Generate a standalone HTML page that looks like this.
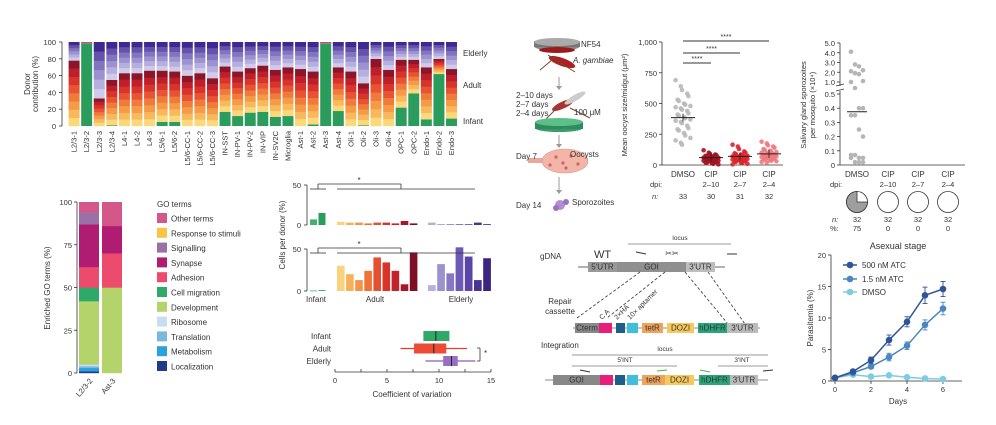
<!DOCTYPE html>
<html><head><meta charset="utf-8">
<style>
html,body{margin:0;padding:0;background:#fff;}
svg{display:block;font-family:"Liberation Sans",Arial,sans-serif;}
text{fill:#333;}
</style></head>
<body>
<svg id="fig" width="996" height="425" viewBox="0 0 996 425" xmlns="http://www.w3.org/2000/svg">
<g id="static">
  <!-- Panel D mosquito illustration -->
  <g>
    <ellipse cx="557" cy="46" rx="23" ry="5" fill="#888"/>
    <rect x="534" y="41" width="46" height="6" fill="#777"/>
    <ellipse cx="557" cy="42" rx="23" ry="4" fill="#aaa"/>
    <ellipse cx="557" cy="50" rx="18" ry="3" fill="#9b1b1b"/>
    <ellipse cx="562" cy="62" rx="14" ry="4" fill="#a22" transform="rotate(20 562 62)"/>
    <line x1="548" y1="55" x2="575" y2="72" stroke="#7a4a2a" stroke-width="1"/>
    <line x1="552" y1="60" x2="540" y2="70" stroke="#7a4a2a" stroke-width="1"/>
    <line x1="559" y1="77" x2="559" y2="88" stroke="#999"/>
    <polygon points="556,86 562,86 559,90" fill="#999"/>
    <ellipse cx="563" cy="105" rx="12" ry="3.5" fill="#a33" transform="rotate(-25 563 105)"/>
    <ellipse cx="575" cy="98" rx="12" ry="3" fill="#ccc" transform="rotate(-30 575 98)"/>
    <line x1="555" y1="110" x2="545" y2="120" stroke="#7a4a2a"/>
    <line x1="570" y1="108" x2="590" y2="118" stroke="#7a4a2a"/>
    <ellipse cx="559" cy="128" rx="24" ry="4" fill="#3b9a6a"/>
    <rect x="535" y="122" width="48" height="7" fill="#2e8b5e"/>
    <ellipse cx="559" cy="122" rx="24" ry="4" fill="#5cbf88"/>
    <line x1="559" y1="135" x2="559" y2="146" stroke="#999"/>
    <polygon points="556,144 562,144 559,148" fill="#999"/>
    <rect x="528" y="158" width="16" height="5" fill="#e9a89a"/>
    <ellipse cx="565" cy="161" rx="23" ry="12" fill="#f2b5a8" stroke="#c98" stroke-width="0.6"/>
    <circle cx="556" cy="157" r="1.6" fill="#c66"/><circle cx="563" cy="163" r="1.6" fill="#c66"/><circle cx="571" cy="156" r="1.6" fill="#c66"/><circle cx="578" cy="164" r="1.6" fill="#c66"/><circle cx="566" cy="168" r="1.6" fill="#c66"/><circle cx="550" cy="165" r="1.6" fill="#c66"/>
    <line x1="559" y1="177" x2="559" y2="192" stroke="#999"/>
    <polygon points="556,190 562,190 559,194" fill="#999"/>
    <circle cx="560" cy="205" r="5" fill="#b18fd0"/><circle cx="566" cy="202" r="3" fill="#9a72c0"/><circle cx="556" cy="208" r="3" fill="#9a72c0"/>
  </g>
  <g font-size="8">
    <text x="581" y="47">NF54</text>
    <text x="573" y="63" font-style="italic">A. gambiae</text>
    <text x="516" y="98">2–10 days</text>
    <text x="516" y="107">2–7 days</text>
    <text x="516" y="116">2–4 days</text>
    <text x="574" y="115">100 μM</text>
    <text x="516" y="159">Day 7</text>
    <text x="570" y="157">Oocysts</text>
    <text x="516" y="208">Day 14</text>
    <text x="572" y="205">Sporozoites</text>
  </g>
</g>
<g id="gA"></g>
<g id="gB"></g>
<g id="gC"></g>
<g id="gCV"></g>
<g id="gO"></g>
<g id="gS"></g>
<g id="gE"></g>
<g id="gP"></g>
</svg>
<script>
// ===== Panel A data =====
const cellTypes = ["L2/3-1","L2/3-2","L2/3-3","L2/3-4","L4-1","L4-2","L4-3","L5/6-1","L5/6-2","L5/6-CC-1","L5/6-CC-2","L5/6-CC-3","IN-SST","IN-PV-1","IN-PV-2","IN-VIP","IN-SV2C","Microglia","Ast-1","Ast-2","Ast-3","Ast-4","Oli-1","Oli-2","Oli-3","Oli-4","OPC-1","OPC-2","Endo-1","Endo-2","Endo-3"];
const infantPct = [0,98,0,1,0,0,0,5,5,0,0,0,17,12,16,17,11,12,0,2,98,18,0,1,0,0,22,39,8,62,9];
const adultPct = [78,1,33,54,63,63,66,61,60,60,63,57,54,53,53,55,56,58,68,63,1,52,65,50,80,67,57,40,62,18,59];
const labelColors = ["#9b1c3a","#9b1c3a","#c4344f","#c4344f","#b0206e","#b0206e","#b0206e","#e0612b","#e0612b","#f0a050","#f0b060","#f5c680","#1e6b3a","#2e9a4e","#3fae5a","#6cc080","#a6d4a0","#2a2a7a","#2a55a0","#3c78c0","#7fb0e0","#a8c8ec","#4a2a8a","#7a60b0","#a090cc","#c0b4dc","#1a6aa0","#2a80c0","#d19a20","#e8b020","#f0c030"];
// ===== Panel B data =====
const goTerms = ["Localization","Metabolism","Translation","Ribosome","Development","Cell migration","Adhesion","Synapse","Signalling","Response to stimuli","Other terms"];
const goColors = ["#213a8a","#2aa3dc","#7ab8e0","#c6def0","#b5d36b","#2fa968","#ec4b6e","#b01c72","#9b6fa8","#f7c443","#d4578a"];
const goL23 = [1,2,1,1,37,8,12,25,7,0,6];
const goAst3 = [0,0,0,0,50,0,20,16,0,0,14];
// ===== Panel C data =====
const infantTop = [7,15];
const adultTop = [4,3,3,2,3,3,2,5,2];
const elderlyTop = [3,1,1,1,1,3,1];
const infantBot = [0.6,1];
const adultBot = [30,20,13,24,40,34,24,8,46];
const elderlyBot = [7,32,21,52,41,13,39];
// CV boxplots: [whiskerLo, q1, median, q3, whiskerHi]
const cvGroups = ["Infant","Adult","Elderly"];
const cvStats = [[8.5,8.5,9.7,11,11],[6.3,7.6,9.5,10.7,12.7],[8.7,10.4,11.2,11.8,13.5]];
// ===== Oocyst data =====
const oocystGroups = ["DMSO","CIP","CIP","CIP"];
const oocystDpi = ["","2–10","2–7","2–4"];
const oocystN = ["33","30","31","32"];
const oocystMeans = [385,60,70,90];
const oocystDMSO = [690,640,610,580,560,530,520,500,490,480,470,460,450,440,420,410,400,390,380,370,360,350,340,320,300,290,280,260,240,220,200,180,165];
const oocyst210 = [120,100,90,85,80,75,70,70,65,60,60,55,55,50,50,45,45,40,40,35,35,30,30,25,25,20,20,15,10,5];
const oocyst27 = [165,150,130,110,100,95,90,85,80,75,70,70,65,65,60,60,55,55,50,50,45,40,40,35,30,30,25,20,15,10,5];
const oocyst24 = [190,175,160,150,140,130,120,115,110,105,100,95,90,90,85,80,80,75,70,70,65,60,60,55,50,50,45,40,35,30,25,20];
// ===== Sporozoite data =====
const sporoDMSO = [4.1,2.8,2.6,2.2,2.1,1.9,1.8,1.1,1.0,0.8,0.4,0.4,0.35,0.35,0.25,0.2,0.07,0.07,0.05,0.05,0.05,0.02,0.02,0.02];
const sporoMean = 0.375;
const sporoPct = [75,0,0,0];
const sporoN = ["32","32","32","32"];
// ===== Parasitemia data =====
const days = [0,1,2,3,4,5,6];
const atc500 = [0.5,1.5,3.3,6.5,9.4,13.6,14.6];
const atc500Err = [0.2,0.3,0.5,0.8,0.8,1.3,1.2];
const atc15 = [0.5,1.3,2.3,3.8,5.6,8.9,11.5];
const atc15Err = [0.2,0.2,0.3,0.6,0.6,0.8,1.0];
const dmso = [0.5,1.0,0.7,0.9,0.6,0.4,0.3];
const dmsoErr = [0.1,0.1,0.1,0.2,0.1,0.1,0.1];

const NS="http://www.w3.org/2000/svg";
function mk(parent, tag, attrs, name){
  const el=document.createElementNS(NS,tag);
  for(const k in attrs) el.setAttribute(k,attrs[k]);
  
  
  parent.appendChild(el); return el;
}
function tx(parent,x,y,s,size,name,extra){
  const a=Object.assign({x:x,y:y,'font-size':size},extra||{});
  const t=mk(parent,'text',a,name); t.textContent=s; return t;
}
function ln(p,x1,y1,x2,y2,name,c,w,dash){
  const a={x1:x1,y1:y1,x2:x2,y2:y2,stroke:c||'#333','stroke-width':w||0.8};
  if(dash) a['stroke-dasharray']=dash;
  return mk(p,'line',a,name);
}
function lin(d0,d1,r0,r1){return v=>r0+(v-d0)/(d1-d0)*(r1-r0);}

// ===== Panel A =====
(function(){
  const g=document.getElementById('gA');
  const y=lin(0,100,126,42);
  const x0=68,bw=(458-68)/cellTypes.length;
  const adultC=["#fbd97a","#f8b95c","#f59a45","#f07a3a","#e85433","#d9342b","#bf1f2a","#8e1427"];
  const eldC=["#cfcaea","#b6aedf","#9c92d0","#8274c0","#6552ab","#3f2890"];
  ln(g,62,42,62,126,'y-axis-a');
  [0,20,40,60,80,100].forEach(v=>{ln(g,59,y(v),62,y(v),'y-tick-a');tx(g,56,y(v)+3,String(v),7.5,'y-tick-label-a',{'text-anchor':'end'});});
  const yl=tx(g,0,0,'Donor',8,'y-axis-title-a',{'text-anchor':'middle',transform:'translate(30,84) rotate(-90)'});
  tx(g,0,0,'contribution (%)',8,'y-axis-title-a2',{'text-anchor':'middle',transform:'translate(38,84) rotate(-90)'});
  cellTypes.forEach((c,i)=>{
    const bx=x0+i*bw+0.6,w=bw-1.6;
    const inf=infantPct[i],ad=adultPct[i];
    if(inf>0) mk(g,'rect',{x:bx,y:y(inf),width:w,height:y(0)-y(inf),fill:'#2a9d5c'},'bar-infant-'+i);
    for(let k=0;k<8;k++){const a=inf+ad*k/8,b=inf+ad*(k+1)/8;
      mk(g,'rect',{x:bx,y:y(b),width:w,height:y(a)-y(b)+0.2,fill:adultC[k]},'bar-adult-'+i);}
    const el=100-inf-ad;
    for(let k=0;k<6;k++){const a=inf+ad+el*k/6,b=inf+ad+el*(k+1)/6;
      mk(g,'rect',{x:bx,y:y(b),width:w,height:y(a)-y(b)+0.2,fill:eldC[k]},'bar-elderly-'+i);}
    const cx=bx+w/2+2.5;
    tx(g,0,0,c,7.5,'x-label-a',{'text-anchor':'end',fill:labelColors[i],transform:`translate(${cx},131) rotate(-90)`});
  });
  tx(g,463,56,'Elderly',8,'legend-elderly');
  tx(g,463,88,'Adult',8,'legend-adult');
  tx(g,463,124,'Infant',8,'legend-infant');
})();

// ===== Panel B =====
(function(){
  const g=document.getElementById('gB');
  const y=lin(0,100,373,202);
  ln(g,77,202,77,373,'y-axis-b');
  [0,25,50,75,100].forEach(v=>{ln(g,74,y(v),77,y(v),'y-tick-b');tx(g,72,y(v)+3,String(v),7.5,'y-tick-label-b',{'text-anchor':'end'});});
  tx(g,0,0,'Enriched GO terms (%)',8,'y-axis-title-b',{'text-anchor':'middle',transform:'translate(50,288) rotate(-90)'});
  [[goL23,79,'L2/3-2'],[goAst3,102,'Ast-3']].forEach(([arr,bx,lab])=>{
    let cum=0;
    arr.forEach((v,k)=>{ if(v>0){mk(g,'rect',{x:bx,y:y(cum+v),width:20,height:y(cum)-y(cum+v)+0.2,fill:goColors[k]},'go-segment-'+goTerms[k].toLowerCase().replace(/ /g,'-'));} cum+=v;});
    tx(g,0,0,lab,7.5,'x-label-b',{'text-anchor':'end',transform:`translate(${bx+14},381) rotate(-50)`});
  });
  tx(g,157,207,'GO terms',8,'legend-title-b');
  const order=goTerms.slice().reverse(), cols=goColors.slice().reverse();
  order.forEach((t,i)=>{const yy=213+i*14.8;
    mk(g,'rect',{x:157,y:yy,width:10,height:10,fill:cols[i]},'legend-swatch-b');
    tx(g,171,yy+8.5,t,8,'legend-entry-b');});
})();

// ===== Panel C =====
(function(){
  const g=document.getElementById('gC');
  const yt=lin(0,50,225,185), yb=lin(0,50,291,249);
  const green=["#43b06b","#2a9d5c"];
  const adC=["#f8d37a","#f6b15a","#f39448","#ee7339","#e65030","#d9342b","#c4222b","#a5182a","#7e1026"];
  const elC=["#b7b0de","#9c92d0","#8678c4","#6c5ab4","#5a45a6","#483294","#3a2480"];
  [[yt,185,225,[infantTop,adultTop,elderlyTop]],[yb,249,291,[infantBot,adultBot,elderlyBot]]].forEach(([y,top,bot,sets],pi)=>{
    ln(g,307,top,307,bot,'y-axis-c');
    [0,50].forEach(v=>{ln(g,304,y(v),307,y(v),'y-tick-c');tx(g,301,y(v)+3,String(v),7.5,'y-tick-label-c',{'text-anchor':'end'});});
    const starts=[310,337,428], gaps=[8.5,9.1,9.2];
    sets.forEach((arr,si)=>{arr.forEach((v,j)=>{
      const c=si==0?green[j]:si==1?adC[j]:elC[j];
      mk(g,'rect',{x:starts[si]+j*gaps[si],y:y(v),width:gaps[si]-1.5,height:Math.max(0.8,y(0)-y(v)),fill:c},'bar-cells-'+['infant','adult','elderly'][si]);
    });});
    // bracket
    const by=top+4;
    ln(g,310,by,326,by,'bracket-infant');ln(g,337,by,475,by,'bracket-adult-elderly');
    ln(g,318,by,318,by-5,'bracket');ln(g,318,by-5,401,by-5,'bracket');ln(g,401,by-5,401,by,'bracket');
    tx(g,359,by-6,'*',8,'significance-c',{'text-anchor':'middle'});
  });
  tx(g,316,302,'Infant',8,'x-label-infant',{'text-anchor':'middle'});
  tx(g,375,302,'Adult',8,'x-label-adult',{'text-anchor':'middle'});
  tx(g,461,302,'Elderly',8,'x-label-elderly',{'text-anchor':'middle'});
  tx(g,0,0,'Cells per donor (%)',8,'y-axis-title-c',{'text-anchor':'middle',transform:'translate(285,235) rotate(-90)'});
})();

// ===== CV boxplot =====
(function(){
  const g=document.getElementById('gCV');
  const x=lin(0,15,335,491);
  const cols=["#2fa968","#ec4b35","#9b6fc0"], wc=["#2a9d5c","#e0402a","#8a5cb8"];
  ln(g,335,372,491,372,'x-axis-cv');
  [0,2.5,5,7.5,10,12.5,15].forEach(v=>ln(g,x(v),369,x(v),372,'x-tick-cv'));
  [0,5,10,15].forEach(v=>tx(g,x(v),383,String(v),7.5,'x-tick-label-cv',{'text-anchor':'middle'}));
  tx(g,412,397,'Coefficient of variation',8,'x-axis-title-cv',{'text-anchor':'middle'});
  cvStats.forEach((s,i)=>{const yy=336+i*12.5;
    ln(g,x(s[0]),yy,x(s[4]),yy,'whisker-'+cvGroups[i].toLowerCase(),wc[i],1.2);
    mk(g,'rect',{x:x(s[1]),y:yy-5,width:x(s[3])-x(s[1]),height:10,fill:cols[i]},'box-'+cvGroups[i].toLowerCase());
    ln(g,x(s[2]),yy-5,x(s[2]),yy+5,'median-'+cvGroups[i].toLowerCase(),'#222',1);
    tx(g,331,yy+3,cvGroups[i],8,'y-label-cv',{'text-anchor':'end'});
  });
  ln(g,480,348,480,361,'significance-bracket');ln(g,477,348,480,348,'bracket');ln(g,477,361,480,361,'bracket');
  tx(g,484,356,'*',8,'significance-cv');
})();

// ===== Oocyst chart =====
(function(){
  const g=document.getElementById('gO');
  const y=lin(0,1000,165,42);
  const xs=[683,711,740,769];
  ln(g,662,42,662,165,'y-axis-o');ln(g,662,165,783,165,'x-axis-o');
  [0,250,500,750,1000].forEach(v=>{ln(g,659,y(v),662,y(v),'y-tick-o');tx(g,657,y(v)+3,v==1000?'1,000':String(v),7.5,'y-tick-label-o',{'text-anchor':'end'});});
  tx(g,0,0,'Mean oocyst size/midgut (μm²)',7.5,'y-axis-title-o',{'text-anchor':'middle',transform:'translate(627,105) rotate(-90)'});
  const sets=[oocystDMSO,oocyst210,oocyst27,oocyst24], cols=["#b8b8b8","#a3131f","#d9262c","#ee7a7e"];
  sets.forEach((arr,i)=>{
    arr.forEach((v,j)=>{const off=((j%5)-2)*3.2+((j%2)?1:-1);
      mk(g,'circle',{cx:xs[i]+off,cy:y(v),r:2.3,fill:cols[i],opacity:0.9},'point-oocyst');});
    ln(g,xs[i]-12,y(oocystMeans[i]),xs[i]+12,y(oocystMeans[i]),'mean-line-o','#222',1);
    ln(g,xs[i],y(oocystMeans[i])-4,xs[i],y(oocystMeans[i])+4,'error-bar-o','#222',0.8);
    tx(g,xs[i],177,oocystGroups[i],8,'x-label-o',{'text-anchor':'middle'});
    tx(g,xs[i],187,oocystDpi[i],7.5,'dpi-label-o',{'text-anchor':'middle'});
    tx(g,xs[i],199,oocystN[i],7.5,'n-label-o',{'text-anchor':'middle'});
  });
  tx(g,650,187,'dpi:',7.5,'dpi-title-o');
  tx(g,652,199,'n:',7.5,'n-title-o',{'font-style':'italic'});
  [[711,63],[740,53],[769,41]].forEach(([x2,yy])=>{ln(g,683,yy,x2,yy,'significance-line-o','#333',1);
    tx(g,(683+x2)/2,yy-2,'****',7,'significance-o',{'text-anchor':'middle'});});
})();

// ===== Sporozoite chart =====
(function(){
  const g=document.getElementById('gS');
  const yu=lin(1,5,82,43), yl=lin(0,0.5,165,94);
  const y=v=>v>0.5?(v>=1?yu(v):yl(0.5)-6):yl(v);
  const xs=[857,888,918,948];
  ln(g,840,43,840,86,'y-axis-s-upper');ln(g,840,91,840,165,'y-axis-s-lower');
  ln(g,836,86,844,84,'axis-break');ln(g,836,91,844,89,'axis-break');
  ln(g,840,165,965,165,'x-axis-s');
  [1,2,3,4,5].forEach(v=>{ln(g,837,yu(v),840,yu(v),'y-tick-s');tx(g,835,yu(v)+3,v.toFixed(1),7.5,'y-tick-label-s',{'text-anchor':'end'});});
  [0,0.1,0.2,0.3,0.4,0.5].forEach(v=>{ln(g,837,yl(v),840,yl(v),'y-tick-s');tx(g,835,yl(v)+3,v==0?'0':v.toFixed(1),7.5,'y-tick-label-s',{'text-anchor':'end'});});
  tx(g,0,0,'Salivary gland sporozoites',7.5,'y-axis-title-s',{'text-anchor':'middle',transform:'translate(806,105) rotate(-90)'});
  tx(g,0,0,'per mosquito (×10⁴)',7.5,'y-axis-title-s2',{'text-anchor':'middle',transform:'translate(815,105) rotate(-90)'});
  sporoDMSO.forEach((v,j)=>{const off=((j%4)-1.5)*4;
    mk(g,'circle',{cx:xs[0]+off,cy:y(v),r:2.3,fill:'#b5b5b5'},'point-sporozoite');});
  ln(g,xs[0]-10,yl(sporoMean),xs[0]+10,yl(sporoMean),'mean-line-s','#222',1);
  xs.forEach((x,i)=>{
    tx(g,x,177,oocystGroups[i],8,'x-label-s',{'text-anchor':'middle'});
    tx(g,x,187,oocystDpi[i],7.5,'dpi-label-s',{'text-anchor':'middle'});
    const r=10.5,cy=202;
    mk(g,'circle',{cx:x,cy:cy,r:r,fill:'#fff',stroke:'#333','stroke-width':0.8},'pie-infection');
    const p=sporoPct[i]/100;
    if(p>0){const a=2*Math.PI*p, ex=x+r*Math.sin(a), ey=cy-r*Math.cos(a);
      mk(g,'path',{d:`M${x},${cy} L${x},${cy-r} A${r},${r} 0 ${p>0.5?1:0} 0 ${x-(ex-x)},${ey} Z`,fill:'#9e9e9e',stroke:'#333','stroke-width':0.8},'pie-slice-infected');}
    tx(g,x,222,sporoN[i],7.5,'n-label-s',{'text-anchor':'middle'});
    tx(g,x,231,String(sporoPct[i]),7.5,'pct-label-s',{'text-anchor':'middle'});
  });
  tx(g,830,187,'dpi:',7.5,'dpi-title-s');
  tx(g,832,222,'n:',7.5,'n-title-s',{'font-style':'italic'});
  tx(g,830,231,'%:',7.5,'pct-title-s');
})();

// ===== Construct diagram =====
(function(){
  const g=document.getElementById('gE');
  function box(x1,x2,y1,h,fill,label,name,tc){
    mk(g,'rect',{x:x1,y:y1,width:x2-x1,height:h,fill:fill},name);
    if(label) tx(g,(x1+x2)/2,y1+h-2.5,label,8,name+'-label',{'text-anchor':'middle',fill:tc||'#222'});
  }
  tx(g,680,240,'locus',6.5,'locus-label-wt',{'text-anchor':'middle'});
  ln(g,628,244,731,244,'locus-line-wt','#999',1);
  tx(g,540,259,'gDNA',8,'gdna-label');
  tx(g,594,258,'WT',11,'wt-label');
  ln(g,578,267,725,267,'gdna-line','#666',1);
  box(588,617,262,10,'#999','5′UTR','box-5utr');
  box(617,686,262,10,'#8f8f8f','GOI','box-goi');
  box(686,715,262,10,'#bdbdbd','3′UTR','box-3utr');
  ln(g,636,252,646,254,'primer-f','#333',1);ln(g,727,254,737,254,'primer-r','#333',1);
  tx(g,672,256,'✂✂',8,'scissors-icon',{'text-anchor':'middle'});
  [[640,272,577,318],[665,272,607,318],[685,272,728,324],[708,272,745,324]].forEach(a=>ln(g,a[0],a[1],a[2],a[3],'homology-line','#333',0.8,'3,2'));
  tx(g,560,304,'Repair',8,'repair-label',{'text-anchor':'middle'});
  tx(g,560,314,'cassette',8,'cassette-label',{'text-anchor':'middle'});
  ln(g,573,328,760,328,'cassette-line','#666',0.8);
  box(575,599,323,10,'#888','Cterm','box-cterm');
  box(599,612,323,10,'#e91e7b','','box-pink');
  box(616,625,323,10,'#1d5e8a','','box-ha');
  box(627,638,323,10,'#3fbfdc','','box-aptamer');
  box(642,663,323,10,'#f0a35a','tetR','box-tetr');
  box(667,694,323,10,'#f7c95c','DOZI','box-dozi');
  box(698,727,323,10,'#2aa67a','hDHFR','box-hdhfr');
  box(727,758,323,10,'#bbb','3′UTR','box-3utr-cassette');
  tx(g,0,0,'C A',7,'ca-label',{transform:'translate(602,320) rotate(-45)'});
  tx(g,0,0,'2×HA',7,'ha-label',{transform:'translate(617,320) rotate(-45)'});
  tx(g,0,0,'10× aptamer',7,'aptamer-label',{transform:'translate(630,320) rotate(-45)'});
  tx(g,541,348,'Integration',8,'integration-label');
  tx(g,665,351,'locus',6.5,'locus-label-int',{'text-anchor':'middle'});
  ln(g,572,355,768,355,'locus-line-int','#999',1);
  tx(g,625,362,'5′INT',6.5,'5int-label',{'text-anchor':'middle'});
  ln(g,572,366,677,366,'5int-line','#999',1);
  tx(g,742,362,'3′INT',6.5,'3int-label',{'text-anchor':'middle'});
  ln(g,718,366,768,366,'3int-line','#999',1);
  ln(g,580,370,590,372,'primer-int-f','#333',1);ln(g,657,371,667,370,'primer-int-gr','#4caf50',1);
  ln(g,700,370,710,372,'primer-int-gf','#4caf50',1);ln(g,763,371,773,370,'primer-int-r','#333',1);
  ln(g,545,380,768,380,'int-line','#666',0.8);
  box(553,600,375,10,'#888','GOI','box-goi-int');
  box(600,613,375,10,'#e91e7b','','box-pink-int');
  box(615,625,375,10,'#1d5e8a','','box-ha-int');
  box(627,638,375,10,'#3fbfdc','','box-aptamer-int');
  box(642,665,375,10,'#f0a35a','tetR','box-tetr-int');
  box(665,694,375,10,'#f7c95c','DOZI','box-dozi-int');
  box(699,730,375,10,'#2aa67a','hDHFR','box-hdhfr-int');
  box(730,758,375,10,'#bbb','3′UTR','box-3utr-int');
})();

// ===== Parasitemia chart =====
(function(){
  const g=document.getElementById('gP');
  const x=lin(0,6,835,943), y=lin(0,20,381,255);
  ln(g,831,255,831,381,'y-axis-p');ln(g,831,381,962,381,'x-axis-p');
  [0,5,10,15,20].forEach(v=>{ln(g,828,y(v),831,y(v),'y-tick-p');tx(g,826,y(v)+3,String(v),7.5,'y-tick-label-p',{'text-anchor':'end'});});
  [0,2,4,6].forEach(v=>{ln(g,x(v),381,x(v),384,'x-tick-p');tx(g,x(v),392,String(v),7.5,'x-tick-label-p',{'text-anchor':'middle'});});
  tx(g,898,404,'Days',8,'x-axis-title-p',{'text-anchor':'middle'});
  tx(g,0,0,'Parasitemia (%)',8,'y-axis-title-p',{'text-anchor':'middle',transform:'translate(813,318) rotate(-90)'});
  tx(g,898,249,'Asexual stage',9,'title-p',{'text-anchor':'middle'});
  const series=[[dmso,dmsoErr,'#7dcde0','DMSO'],[atc15,atc15Err,'#4b86c0','1.5 nM ATC'],[atc500,atc500Err,'#2e5597','500 nM ATC']];
  series.forEach(([vals,err,c,nm])=>{
    const pts=vals.map((v,i)=>x(days[i])+','+y(v)).join(' ');
    mk(g,'polyline',{points:pts,fill:'none',stroke:c,'stroke-width':1.5},'line-'+nm.replace(/ /g,'-').toLowerCase());
    vals.forEach((v,i)=>{
      ln(g,x(days[i]),y(v-err[i]),x(days[i]),y(v+err[i]),'error-bar-p',c,0.9);
      ln(g,x(days[i])-2.5,y(v+err[i]),x(days[i])+2.5,y(v+err[i]),'error-cap-p',c,0.9);
      ln(g,x(days[i])-2.5,y(v-err[i]),x(days[i])+2.5,y(v-err[i]),'error-cap-p',c,0.9);
      mk(g,'circle',{cx:x(days[i]),cy:y(v),r:3.3,fill:c},'point-'+nm.replace(/ /g,'-').toLowerCase());
    });
  });
  [['500 nM ATC','#2e5597',265],['1.5 nM ATC','#4b86c0',279],['DMSO','#7dcde0',292]].forEach(([n,c,yy])=>{
    ln(g,843,yy,857,yy,'legend-line-p',c,1.5);
    mk(g,'circle',{cx:850,cy:yy,r:3.3,fill:c},'legend-marker-p');
    tx(g,862,yy+3,n,8,'legend-entry-p');
  });
})();
</script>
</body></html>
